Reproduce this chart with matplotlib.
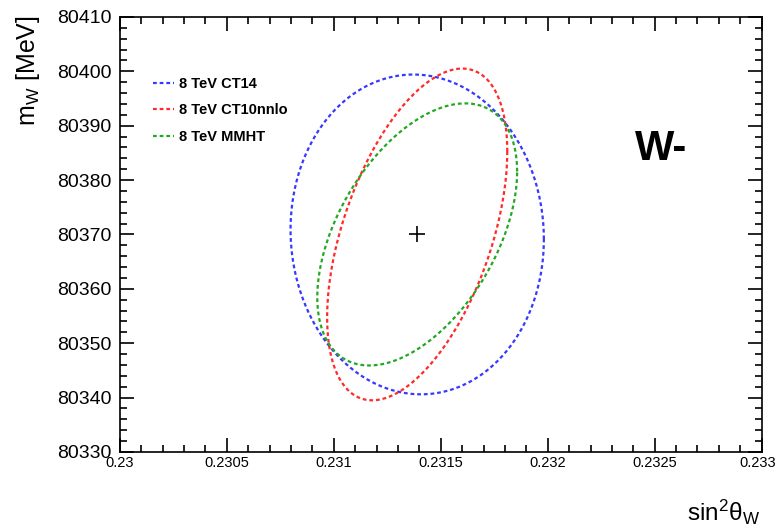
import numpy as np
import matplotlib.pyplot as plt
import matplotlib.transforms as mtransforms
from matplotlib.ticker import MultipleLocator

plt.rcParams['font.family'] = ['Liberation Sans', 'DejaVu Sans']
plt.rcParams['mathtext.default'] = 'regular'

# fit result and 1-sigma contours (sin2theta_W, m_W)
center = (0.23139, 80370.0)
labels = ["8 TeV CT14", "8 TeV CT10nnlo", "8 TeV MMHT"]
colors = ["#3838ff", "#ff2a2a", "#22a822"]
sigma_x = [0.000592, 0.000421, 0.000467]
sigma_y = [29.4, 30.5, 24.1]
rho = [-0.03, 0.50, 0.48]

xticks = [0.23, 0.2305, 0.231, 0.2315, 0.232, 0.2325, 0.233]
xticklabels = ["0.23", "0.2305", "0.231", "0.2315", "0.232", "0.2325", "0.233"]

fig = plt.figure(figsize=(7.78, 5.28), dpi=100)
ax = fig.add_axes([0.154, 0.144, 0.825, 0.824])

t = np.linspace(0, 2 * np.pi, 400)
for lab, c, sx, sy, r in zip(labels, colors, sigma_x, sigma_y, rho):
    x = center[0] + sx * np.cos(t)
    y = center[1] + sy * (r * np.cos(t) + np.sqrt(1 - r**2) * np.sin(t))
    ax.plot(x, y, color=c, lw=1.6, ls=(0, (1.7, 1.3)), label=lab)

ax.plot(*center, marker="+", color="black", ms=11, mew=1.2, ls="none")

ax.set_xlim(0.23, 0.233)
ax.set_ylim(80330, 80410)
ax.xaxis.set_minor_locator(MultipleLocator(0.0001))
ax.yaxis.set_major_locator(MultipleLocator(10))
ax.yaxis.set_minor_locator(MultipleLocator(2))
ax.set_xticks(xticks)
ax.set_xticklabels(xticklabels)
ax.tick_params(which="both", direction="in", top=True, right=True, width=1.2)
ax.tick_params(which="major", length=10)
ax.tick_params(which="minor", length=5)
ax.tick_params(axis="x", labelsize=10.5, pad=3)
ax.tick_params(axis="y", labelsize=14, pad=6)
for s in ax.spines.values():
    s.set_linewidth(1.2)

# keep the last x label inside the figure
last = ax.get_xticklabels()[-1]
last.set_horizontalalignment("right")
last.set_transform(last.get_transform() +
                   mtransforms.ScaledTranslation(14 / 100, 0, fig.dpi_scale_trans))

ax.set_ylabel("m$_{W}$ [MeV]", fontsize=18, loc="top")
ax.yaxis.set_label_coords(-0.121, 1.004)
ax.set_xlabel(r"sin$^{2}\theta_{W}$", fontsize=17.5, loc="right")
ax.xaxis.set_label_coords(0.997, -0.105)

ax.text(0.802, 0.671, "W-", transform=ax.transAxes, fontsize=30, fontweight="bold")

ax.legend(loc="upper left", bbox_to_anchor=(0.051, 0.862), frameon=False,
          prop={"size": 10.5, "weight": "bold"}, handlelength=1.5, handletextpad=0.3,
          labelspacing=0.85, borderpad=0, borderaxespad=0)

fig.savefig("out.png", dpi=100)
